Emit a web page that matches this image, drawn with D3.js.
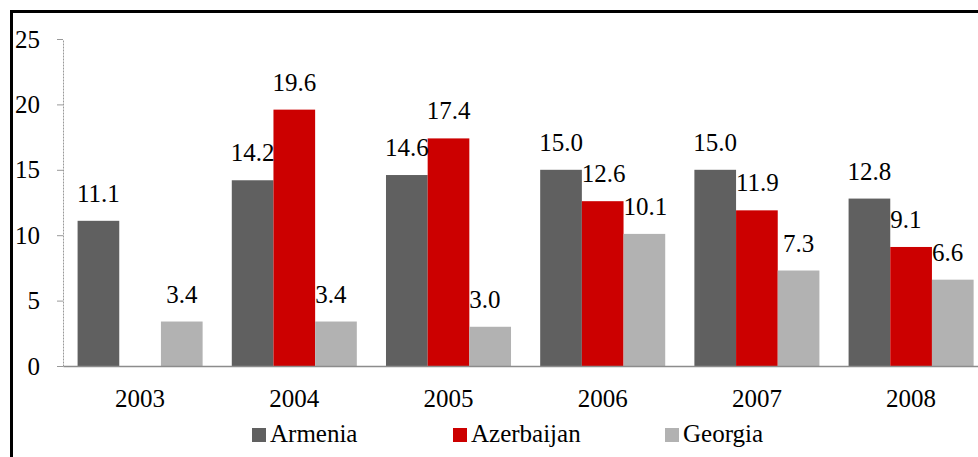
<!DOCTYPE html>
<html>
<head>
<meta charset="utf-8">
<script src="https://cdn.jsdelivr.net/npm/d3@7"></script>
<style>
  body { margin: 0; background: #fff; }
  svg { display: block; }
  svg text { font-family: "Liberation Serif", Tinos, "Times New Roman", Times, "Noto Serif", "DejaVu Serif", FreeSerif, serif !important; }
</style>
</head>
<body>
<svg id="chart"></svg>
<script>
// chart values
const years     = ['2003', '2004', '2005', '2006', '2007', '2008'];
const countries = ['Armenia', 'Azerbaijan', 'Georgia'];
const armenia    = [11.1, 14.2, 14.6, 15.0, 15.0, 12.8];
const azerbaijan = [null, 19.6, 17.4, 12.6, 11.9, 9.1];
const georgia    = [3.4, 3.4, 3.0, 10.1, 7.3, 6.6];
const yTicks     = [0, 5, 10, 15, 20, 25];

// labels that were nudged so they start at the bar's left edge
const startLabels = ['2004-Georgia', '2005-Georgia', '2006-Azerbaijan', '2006-Georgia',
                     '2007-Azerbaijan', '2008-Azerbaijan', '2008-Georgia'];

let width    = 978,
    height   = 457,
    plotLeft = 63,
    plotBot  = 366,
    plotTop  = 39,
    band     = 154.2,
    font     = '"Liberation Serif", Tinos, "Times New Roman", Times, "Noto Serif", "DejaVu Serif", serif',
    colors   = { Armenia: '#606060', Azerbaijan: '#cc0000', Georgia: '#b2b2b2' },
    series   = { Armenia: armenia, Azerbaijan: azerbaijan, Georgia: georgia },

    svg      = d3.select('#chart')
                 .attr('width', width)
                 .attr('height', height),

    x0       = d3.scaleBand()
                 .domain(years)
                 .range([plotLeft, plotLeft + band * years.length])
                 .paddingInner(0)
                 .paddingOuter(0),

    x1       = d3.scaleBand()
                 .domain(countries)
                 .range([0, x0.bandwidth()])
                 .paddingOuter(0.35)
                 .paddingInner(0),

    y        = d3.scaleLinear()
                 .domain([0, 25])
                 .range([plotBot, plotTop]);

// frame
svg.append('rect')
    .attr('x', 11.5).attr('y', 11.5)
    .attr('width', 1000).attr('height', 500)
    .attr('fill', 'none')
    .attr('stroke', '#000')
    .attr('stroke-width', 3);

// bars
let rows = [];
years.forEach((yr, i) => countries.forEach(c => {
    if (series[c][i] != null) rows.push({ year: yr, country: c, value: series[c][i] });
}));

svg.append('g')
    .selectAll('rect')
    .data(rows)
    .enter()
    .append('rect')
    .attr('x', d => x0(d.year) + x1(d.country))
    .attr('y', d => y(d.value))
    .attr('width', x1.bandwidth())
    .attr('height', d => plotBot - y(d.value))
    .attr('fill', d => colors[d.country]);

// y axis
let yAxis = svg.append('g')
    .attr('transform', `translate(${plotLeft},0)`)
    .call(d3.axisLeft(y).tickValues(yTicks).tickSize(6).tickSizeOuter(0).tickPadding(17))
    .attr('font-family', font);
yAxis.select('.domain').attr('stroke', '#999').attr('stroke-dasharray', '2,1');
yAxis.selectAll('.tick line').attr('stroke', '#999');
yAxis.selectAll('.tick text')
    .attr('font-size', 25)
    .attr('fill', '#000');

// x axis
let xAxis = svg.append('g')
    .attr('transform', `translate(0,${plotBot})`)
    .call(d3.axisBottom(x0).tickSize(0).tickPadding(23))
    .attr('font-family', font);
xAxis.select('.domain').attr('stroke', '#8c8c8c').attr('stroke-width', 1.5);
xAxis.selectAll('.tick text')
    .attr('font-size', 25)
    .attr('fill', '#000');

// value labels
svg.append('g')
    .attr('font-family', font)
    .selectAll('text')
    .data(rows)
    .enter()
    .append('text')
    .attr('x', d => startLabels.includes(d.year + '-' + d.country)
        ? x0(d.year) + x1(d.country)
        : x0(d.year) + x1(d.country) + x1.bandwidth() / 2)
    .attr('y', d => y(d.value) - 19)
    .attr('text-anchor', d => startLabels.includes(d.year + '-' + d.country) ? 'start' : 'middle')
    .attr('font-size', 25)
    .attr('fill', '#000')
    .text(d => d3.format('.1f')(d.value));

// legend
let legendX = [252, 453, 665];
let legend = svg.append('g')
    .attr('font-family', font)
    .selectAll('g')
    .data(countries)
    .enter()
    .append('g')
    .attr('transform', (d, i) => `translate(${legendX[i]},428)`);
legend.append('rect')
    .attr('width', 14).attr('height', 14)
    .attr('fill', d => colors[d]);
legend.append('text')
    .attr('x', 18).attr('y', 14)
    .attr('font-size', 25)
    .attr('fill', '#000')
    .text(d => d);
</script>
</body>
</html>
